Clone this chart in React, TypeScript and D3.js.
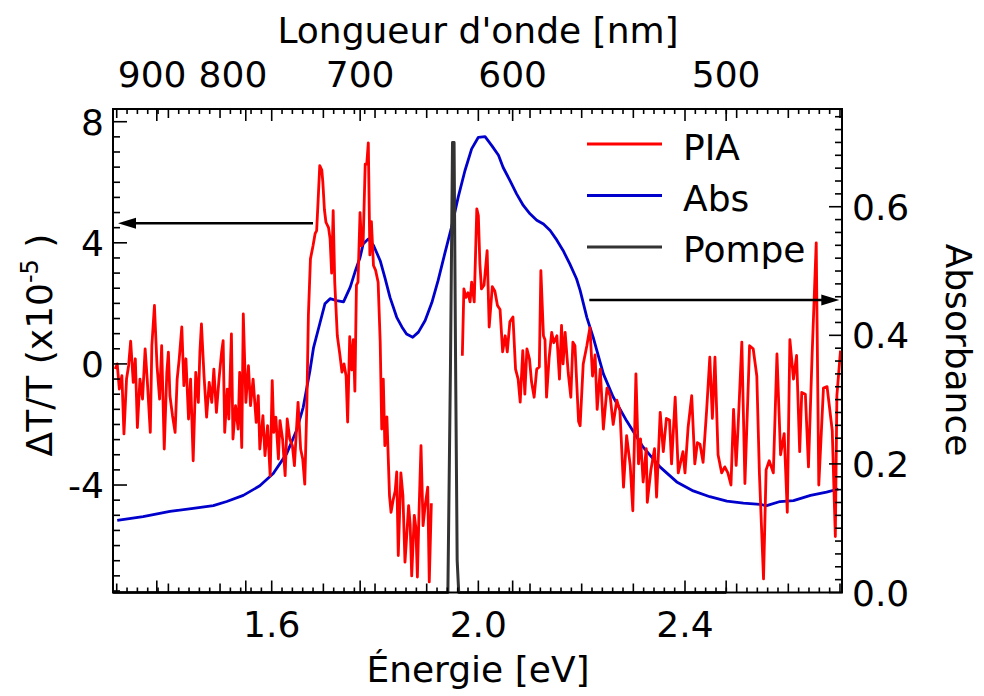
import React from 'react';
import * as d3 from 'd3';

// ---------- DATA ----------
// PIA (ΔT/T, x1e-5), low-energy segment (before the pump)
const piaLowE = [1.297,1.301,1.305,1.310,1.314,1.319,1.323,1.327,1.332,1.336,1.340,1.345,1.350,1.355,1.359,1.365,1.368,1.373,1.378,1.383,1.387,1.392,1.397,1.400,1.403,1.408,1.413,1.417,1.421,1.426,1.430,1.434,1.439,1.443,1.448,1.453,1.458,1.461,1.464,1.469,1.474,1.479,1.484,1.488,1.493,1.498,1.503,1.506,1.509,1.514,1.517,1.522,1.525,1.530,1.535,1.538,1.542,1.545,1.550,1.555,1.559,1.564,1.570,1.574,1.577,1.583,1.587,1.592,1.597,1.601,1.604,1.608,1.613,1.616,1.621,1.626,1.630,1.635,1.640,1.644,1.648,1.651,1.656,1.660,1.664,1.668,1.671,1.675,1.680,1.684,1.687,1.690,1.693,1.697,1.699,1.702,1.705,1.710,1.713,1.716,1.719,1.722,1.727,1.732,1.736,1.740,1.744,1.747,1.751,1.755,1.758,1.761,1.764,1.767,1.771,1.774,1.777,1.781,1.784,1.787,1.790,1.793,1.797,1.801,1.806,1.810,1.813,1.816,1.819,1.823,1.828,1.831,1.835,1.839,1.842,1.845,1.850,1.854,1.858,1.862,1.865,1.868,1.871,1.876,1.879,1.882,1.885,1.889,1.893,1.897,1.902,1.905,1.909];
const piaLowV = [-0.17,0.0,-0.83,-0.39,-2.31,-0.5,-0.06,0.75,-0.61,0.17,-2.1,-0.5,-1.16,0.5,-0.5,-2.26,0.6,1.93,-0.06,-1.16,0.6,-2.81,-0.28,0.39,-1.05,-1.71,-2.26,-0.5,0.17,1.22,-0.72,0.17,-1.82,-0.5,-3.2,-0.28,-1.27,0.39,1.32,-0.39,-1.76,-0.61,-1.27,-0.17,-1.6,-0.5,0.39,0.77,-2.26,-0.83,-1.82,0.99,-2.48,-1.38,-2.15,-0.28,-2.76,1.65,-1.27,-0.06,-1.38,-0.5,-1.93,-1.05,-2.81,-1.71,-3.03,-2.04,-3.69,-0.55,-2.26,-1.76,-3.14,-1.87,-2.48,-3.69,-1.82,-2.48,-2.7,-3.36,-2.15,-1.27,-2.81,-3.14,-3.97,-1.38,1.6,3.47,3.9,4.3,4.4,5.45,6.55,6.4,6.0,5.1,4.68,4.5,4.13,3.0,5.06,2.7,0.93,0.3,-0.27,0.0,-0.4,-1.92,0.9,-0.2,0.8,-0.9,2.6,2.7,5.0,3.9,4.0,6.6,6.6,7.3,3.6,4.7,3.25,3.1,2.7,0.73,-2.15,-0.5,-2.7,-1.75,-4.35,-4.9,-4.5,-4.2,-3.57,-6.33,-3.6,-4.35,-6.55,-5.5,-4.68,-5.3,-7.0,-5.0,-5.4,-7.04,-5.0,-2.7,-5.34,-4.68,-4.07,-7.2,-4.6];
// PIA, high-energy segment (after the pump)
const piaHighE = [1.969,1.972,1.976,1.980,1.984,1.987,1.992,1.997,2.000,2.003,2.006,2.011,2.017,2.021,2.027,2.032,2.037,2.042,2.047,2.052,2.056,2.061,2.067,2.072,2.077,2.081,2.086,2.090,2.094,2.099,2.103,2.108,2.113,2.118,2.121,2.126,2.129,2.132,2.137,2.142,2.146,2.152,2.157,2.161,2.164,2.168,2.174,2.179,2.183,2.187,2.194,2.197,2.203,2.210,2.216,2.221,2.226,2.230,2.236,2.242,2.249,2.255,2.261,2.268,2.274,2.281,2.287,2.294,2.299,2.305,2.310,2.314,2.319,2.325,2.327,2.334,2.341,2.345,2.352,2.358,2.364,2.370,2.374,2.381,2.387,2.396,2.400,2.406,2.413,2.419,2.424,2.429,2.435,2.442,2.448,2.453,2.458,2.464,2.471,2.477,2.483,2.489,2.494,2.499,2.503,2.510,2.516,2.525,2.532,2.539,2.544,2.552,2.557,2.563,2.571,2.578,2.585,2.592,2.598,2.603,2.610,2.616,2.622,2.626,2.633,2.639,2.646,2.654,2.659,2.668,2.675,2.685,2.691,2.694,2.701];
const piaHighV = [0.27,2.48,2.2,2.35,2.05,2.7,2.05,5.12,4.9,3.3,2.48,2.6,3.74,1.22,2.55,2.4,1.93,1.8,0.4,0.93,0.4,1.39,1.55,-0.17,-0.5,-1.26,0.44,-1.0,0.5,0.16,-0.6,-1.1,-0.17,-0.1,3.08,0.93,0.8,-1.1,0.2,1.04,0.7,0.93,-0.5,1.27,0.0,1.04,-0.3,-1.1,0.72,0.6,-1.9,-2.04,0.0,0.6,1.2,-0.4,0.3,-1.5,-0.17,-2.15,-0.8,-1.05,-2.0,-1.2,-1.54,-4.07,-2.37,-3.36,-4.85,-0.33,-3.3,-2.48,-3.9,-2.8,-4.57,-3.5,-2.8,-4.4,-1.6,-2.9,-1.8,-1.85,-3.3,-1.1,-3.6,-2.9,-3.6,-2.1,-1.05,-3.3,-2.6,-2.65,-3.25,-1.5,0.22,-1.8,0.22,-3.0,-3.6,-3.4,-3.6,-4.0,-1.5,-3.35,-2.0,0.72,-3.95,0.6,0.5,-0.4,-3.6,-7.1,-3.5,-3.2,-3.6,0.33,-3.0,-2.3,-4.9,0.8,-0.5,0.28,-2.9,-0.94,-1.0,-3.4,0.28,4.0,-4.0,-0.8,-0.75,-2.2,-5.7,-1.05,0.44];
// Absorbance
const absE = [1.301,1.351,1.403,1.448,1.487,1.513,1.545,1.577,1.603,1.629,1.648,1.661,1.674,1.681,1.693,1.703,1.713,1.726,1.739,1.752,1.761,1.771,1.777,1.787,1.797,1.810,1.819,1.829,1.842,1.852,1.861,1.873,1.884,1.897,1.910,1.922,1.935,1.948,1.961,1.974,1.987,2.000,2.013,2.026,2.039,2.048,2.061,2.074,2.087,2.100,2.113,2.126,2.139,2.152,2.164,2.177,2.190,2.197,2.210,2.223,2.242,2.261,2.287,2.319,2.352,2.384,2.416,2.448,2.481,2.513,2.545,2.558,2.584,2.610,2.643,2.674,2.697];
const absV = [0.112,0.118,0.126,0.131,0.135,0.1415,0.151,0.166,0.185,0.216,0.252,0.288,0.345,0.381,0.418,0.449,0.457,0.454,0.452,0.475,0.498,0.521,0.542,0.550,0.540,0.516,0.490,0.459,0.428,0.413,0.402,0.397,0.405,0.423,0.451,0.485,0.527,0.568,0.615,0.656,0.690,0.708,0.709,0.695,0.680,0.661,0.641,0.620,0.602,0.589,0.579,0.573,0.563,0.548,0.532,0.511,0.488,0.470,0.428,0.395,0.340,0.304,0.267,0.226,0.195,0.172,0.158,0.149,0.142,0.139,0.137,0.135,0.1415,0.143,0.151,0.156,0.161];
// Pump spectrum (on absorbance scale)
const pumpE = [1.293,1.941,1.946,1.950,1.953,1.956,1.959,1.962,2.480];
const pumpV = [0,0,0.35,0.70,0.70,0.35,0.05,0,0];

// Axis ticks / labels
const energyLabels = [1.6, 2.0, 2.4];
const wavelengthTicks = [900, 800, 700, 600, 500];
// where each wavelength label is anchored (nm) — the two leftmost sit slightly left of their ticks in the original
const wavelengthLabelAnchors = [906, 813, 700, 600, 500];
const leftLabels = [8, 4, 0, -4];
const rightLabels = [0.0, 0.2, 0.4, 0.6];
const legendNames = ['PIA', 'Abs', 'Pompe'];
const legendColors = ['#ff0000', '#0000cc', '#333333'];
// Annotation arrows: [fromEnergy, toEnergy, value]
const arrowLeft = [1.680, 1.3025, 4.65];
const arrowRight = [2.2148, 2.6987, 0.455];

const HC = 1239.84;

export default function App() {
  const W = 984, H = 696;
  const L = 113, R = 842, T = 109, B = 592.5;
  const x = d3.scaleLinear().domain([1.2928, 2.7039]).range([L, R]);
  const yL = d3.scaleLinear().domain([-7.55, 8.42]).range([B, T]);
  const yR = d3.scaleLinear().domain([0, 0.752]).range([B, T]);
  const font = 'DejaVu Sans';
  const fs = 36;

  const zip = (e: number[], v: number[]) => e.map((d, i) => [d, v[i]] as [number, number]);
  const lineL = d3.line<[number, number]>().x(d => x(d[0])).y(d => yL(d[1]));
  const lineR = d3.line<[number, number]>().x(d => x(d[0])).y(d => yR(d[1]));

  const eTicks = d3.range(65, 136).map(i => ({ v: i / 50, len: energyLabels.some(l => Math.abs(l - i / 50) < 1e-6) ? 12 : (i % 5 === 0 ? 9 : 5) }));
  const wTicks = wavelengthTicks.map(w => ({ v: HC / w, len: 12 }));
  const allX = [...eTicks, ...wTicks];
  const lTicks = d3.range(-15, 17).map(i => ({ v: i / 2, len: (i / 2) % 4 === 0 ? 14 : 7 }));
  const rTicks = d3.range(0, 38).map(i => ({ v: i / 50, len: i % 10 === 0 ? 13 : 7 }));

  const arrowHead = (tipX: number, tipY: number, dir: number) => {
    const len = 18, hw = 5.5;
    return `M${tipX},${tipY} L${tipX - dir * len},${tipY - hw} L${tipX - dir * len},${tipY + hw} Z`;
  };

  const la = { x1: x(arrowLeft[0]), x2: x(arrowLeft[1]), y: yL(arrowLeft[2]) };
  const ra = { x1: x(arrowRight[0]), x2: x(arrowRight[1]), y: yR(arrowRight[2]) };

  return (
    <svg width={W} height={H} style={{ position: 'absolute', left: 0, top: 0, background: '#fff' }} fontFamily={font}>
      <rect x={0} y={0} width={W} height={H} fill="#fff" />
      <path d={lineR(zip(absE, absV)) || ''} fill="none" stroke="#0000cc" strokeWidth={2.8} strokeLinejoin="round" />
      <path d={lineL(zip(piaLowE, piaLowV)) || ''} fill="none" stroke="#ff0000" strokeWidth={2.8} strokeLinejoin="round" />
      <path d={lineL(zip(piaHighE, piaHighV)) || ''} fill="none" stroke="#ff0000" strokeWidth={2.8} strokeLinejoin="round" />
      <path d={lineR(zip(pumpE, pumpV)) || ''} fill="none" stroke="#333333" strokeWidth={3} strokeLinejoin="round" />

      <rect x={L} y={T} width={R - L} height={B - T} fill="none" stroke="#000" strokeWidth={2} />
      {allX.map((t, i) => (
        <g key={'x' + i} stroke="#000" strokeWidth={1.6}>
          <line x1={x(t.v)} x2={x(t.v)} y1={T} y2={T + t.len} />
          <line x1={x(t.v)} x2={x(t.v)} y1={B} y2={B - t.len} />
        </g>
      ))}
      {lTicks.map((t, i) => (
        <line key={'l' + i} x1={L} x2={L + t.len} y1={yL(t.v)} y2={yL(t.v)} stroke="#000" strokeWidth={1.6} />
      ))}
      {rTicks.map((t, i) => (
        <line key={'r' + i} x1={R} x2={R - t.len} y1={yR(t.v)} y2={yR(t.v)} stroke="#000" strokeWidth={1.6} />
      ))}

      {energyLabels.map(v => (
        <text key={'el' + v} x={x(v)} y={637} fontSize={fs} textAnchor="middle">{v.toFixed(1)}</text>
      ))}
      {wavelengthTicks.map((w, i) => (
        <text key={'wl' + w} x={x(HC / wavelengthLabelAnchors[i])} y={87} fontSize={fs} textAnchor="middle">{w}</text>
      ))}
      {leftLabels.map(v => (
        <text key={'ll' + v} x={104} y={yL(v) + 13} fontSize={fs} textAnchor="end">{v}</text>
      ))}
      {rightLabels.map(v => (
        <text key={'rl' + v} x={852} y={yR(v) + 13} fontSize={fs} textAnchor="start">{v.toFixed(1)}</text>
      ))}

      <text x={478} y={43} fontSize={fs} textAnchor="middle">Longueur d'onde [nm]</text>
      <text x={478} y={682} fontSize={fs} textAnchor="middle">Énergie [eV]</text>
      <text transform="translate(52,345) rotate(-90)" fontSize={fs} textAnchor="middle">
        ΔT/T (x10<tspan dy={-14} fontSize={24}>-5</tspan><tspan dy={14}> )</tspan>
      </text>
      <text transform="translate(946,350) rotate(90)" fontSize={fs} textAnchor="middle">Absorbance</text>

      {legendNames.map((n, i) => (
        <g key={n}>
          <line x1={587} x2={662} y1={144 + i * 51.5} y2={144 + i * 51.5} stroke={legendColors[i]} strokeWidth={3} />
          <text x={683} y={160 + i * 51} fontSize={fs}>{n}</text>
        </g>
      ))}

      <line x1={la.x1} x2={la.x2 + 14} y1={la.y} y2={la.y} stroke="#000" strokeWidth={2.5} />
      <path d={arrowHead(la.x2, la.y, -1)} fill="#000" />
      <line x1={ra.x1} x2={ra.x2 - 14} y1={ra.y} y2={ra.y} stroke="#000" strokeWidth={2.5} />
      <path d={arrowHead(ra.x2, ra.y, 1)} fill="#000" />
    </svg>
  );
}
